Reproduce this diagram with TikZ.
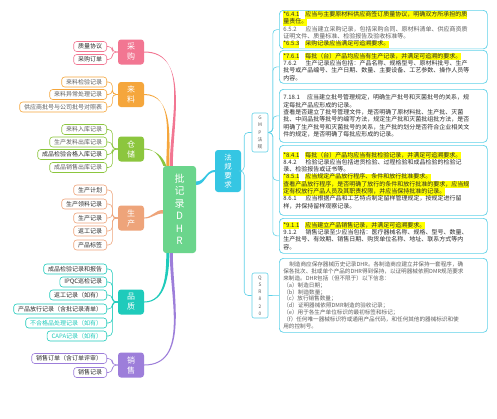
\documentclass[tikz,border=0pt]{standalone}
\usepackage{fontspec}
\setmainfont{Noto Sans CJK SC}
\usetikzlibrary{positioning}
\definecolor{cgc}{HTML}{F27692}
\definecolor{llc}{HTML}{F5A63C}
\definecolor{ccc}{HTML}{8CC63E}
\definecolor{scc}{HTML}{EEA47A}
\definecolor{pzc}{HTML}{1FCBBB}
\definecolor{xsc}{HTML}{9D7EDA}
\definecolor{dhrc}{HTML}{6BD58C}
\definecolor{fgc}{HTML}{35C6E3}
\definecolor{linec}{HTML}{5FD1E8}
\definecolor{txtc}{HTML}{2B2B2B}
\definecolor{grayc}{HTML}{5E5E5E}
\definecolor{hlc}{HTML}{FFFF00}
\newcommand{\hl}[1]{{\setlength{\fboxsep}{0pt}\colorbox{hlc}{\strut #1}}}

\begin{document}
\begin{tikzpicture}[x=1pt, y=1pt,
  cat/.style={fill=#1, rounded corners=3pt, minimum width=26pt, minimum height=25pt, inner sep=0pt, text=white, align=center, font=\fontsize{8}{10}\selectfont},
  leaf/.style={draw=#1, fill=white, rounded corners=3pt, line width=0.6pt, anchor=east, inner xsep=4.5pt, inner ysep=0pt, minimum height=10pt, text=txtc, font=\fontsize{6}{7}\selectfont},
  vbox/.style={draw=linec, fill=white, rounded corners=2pt, line width=0.6pt, minimum width=16pt, inner sep=0pt, text=grayc, align=center, font=\fontsize{4.8}{7.2}\selectfont},
  rbox/.style={draw=linec, fill=white, rounded corners=4pt, line width=0.7pt, anchor=north west, text width=200pt, inner xsep=4pt, inner ysep=1pt, align=left, text=txtc, font=\fontsize{6}{7.3}\selectfont},
  twig/.style={draw=#1, line width=0.6pt, rounded corners=4pt}]
  \path[fill=white] (0,0) rectangle (497,-418);
  \useasboundingbox (0,0) rectangle (497,-418);

  % centre
  \node[fill=dhrc, rounded corners=3pt, minimum width=33pt, minimum height=87pt, inner sep=0pt, text=white, align=center, font=\fontsize{10}{12.5}\selectfont] (dhr) at (179.5,-209.5) {批\\记\\录\\D\\H\\R};
  \node[fill=fgc, rounded corners=3pt, minimum width=26pt, minimum height=42pt, inner sep=0pt, text=white, align=center, font=\fontsize{7.5}{8.8}\selectfont] (fg) at (228,-171) {法\\规\\要\\求};
  \node[vbox, minimum height=39pt] (gmp) at (260,-132.5) {G\\M\\P\\法\\规};
  \node[vbox, minimum height=45pt] (qsr) at (260,-295.5) {Q\\S\\R\\8\\2\\0};

  % categories
  \node[cat=cgc] (cg) at (131,-52) {采\\购};
  \node[cat=llc] (ll) at (131,-94.5) {来\\料};
  \node[cat=ccc] (cc) at (131,-149) {仓\\储};
  \node[cat=scc] (sc) at (131,-218) {生\\产};
  \node[cat=pzc] (pz) at (131,-302) {品\\质};
  \node[cat=xsc] (xs) at (131,-365) {销\\售};

  % leaves
  \node[leaf=cgc] (cg1) at (107,-46.5) {质量协议};
  \node[leaf=cgc] (cg2) at (107,-59.5) {采购订单};
  \node[leaf=llc, text=grayc] (ll1) at (107,-82) {来料检验记录};
  \node[leaf=llc, text=grayc] (ll2) at (107,-94.5) {来料异常处理记录};
  \node[leaf=llc, text=grayc] (ll3) at (107,-107) {供应商批号与公司批号对照表};
  \node[leaf=ccc, text=grayc] (cc1) at (107,-129.5) {来料入库记录};
  \node[leaf=ccc, text=grayc] (cc2) at (107,-142) {生产发料出库记录};
  \node[leaf=ccc] (cc3) at (107,-154.5) {成品检验合格入库记录};
  \node[leaf=ccc, text=grayc] (cc4) at (107,-167.5) {成品销售出库记录};
  \node[leaf=scc] (sc1) at (107,-190) {生产计划};
  \node[leaf=scc] (sc2) at (107,-204) {生产领料记录};
  \node[leaf=scc] (sc3) at (107,-218) {生产记录};
  \node[leaf=scc] (sc4) at (107,-231) {返工记录};
  \node[leaf=scc] (sc5) at (107,-245) {产品标签};
  \node[leaf=pzc] (pz1) at (107,-269) {成品检验记录和报告};
  \node[leaf=pzc] (pz2) at (107,-282) {IPQC巡检记录};
  \node[leaf=pzc] (pz3) at (107,-295) {返工记录（如有）};
  \node[leaf=pzc] (pz4) at (107,-309) {产品放行记录（含批记录清单）};
  \node[leaf=pzc, text=pzc] (pz5) at (107,-323) {不合格品处理记录（如有）};
  \node[leaf=pzc, text=pzc] (pz6) at (107,-336) {CAPA记录（如有）};
  \node[leaf=xsc] (xs1) at (107,-358.5) {销售订单（含订单评审）};
  \node[leaf=xsc] (xs2) at (107,-372.5) {销售记录};

  % regulation texts
  \node[rbox, minimum height=37pt] (r1) at (279,-10) {\hl{*6.4.1}\kern6pt\hl{应当与主要原材料供应商签订质量协议，明确双方所承担的质}\\
    \hl{量责任。}\\
    \textcolor{grayc}{6.5.2\kern9pt 应当建立采购记录，包括采购合同、原材料清单、供应商资质}\\
    \textcolor{grayc}{证明文件、质量标准、检验报告及验收标准等。}\\
    \hl{*6.5.3}\kern6pt\hl{采购记录应当满足可追溯要求。}};
  \node[rbox, minimum height=33pt] (r2) at (279,-50) {\hl{*7.6.1}\kern6pt\hl{每批（台）产品均应当有生产记录，并满足可追溯的要求。}\\
    7.6.2\kern9pt 生产记录应当包括：产品名称、规格型号、原材料批号、生产\\
    批号或产品编号、生产日期、数量、主要设备、工艺参数、操作人员等\\
    内容。};
  \node[rbox, minimum height=53pt] (r3) at (279,-89) {7.18.1\kern7pt 应当建立批号管理规定，明确生产批号和灭菌批号的关系，规\\
    定每批产品应形成的记录。\\
    查看是否建立了批号管理文件，是否明确了原材料批、生产批、灭菌\\
    批、中间品批等批号的编写方法，规定生产批和灭菌批组批方法，是否\\
    明确了生产批号和灭菌批号的关系，生产批的划分是否符合企业相关文\\
    件的规定，是否明确了每批应形成的记录。};
  \node[rbox, minimum height=70pt] (r4) at (279,-145) {\hl{*8.4.1}\kern6pt\hl{每批（台）产品均应当有批检验记录，并满足可追溯要求。}\\
    8.4.2\kern9pt 检验记录应当包括进货检验、过程检验和成品检验的检验记\\
    录、检验报告或证书等。\\
    \hl{*8.5.1}\kern6pt\hl{应当规定产品放行程序、条件和放行批准要求。}\\
    \hl{查看产品放行程序，是否明确了放行的条件和放行批准的要求，应当规}\\
    \hl{定有权放行产品人员及其职责权限，并应当保持批准的记录。}\\
    8.6.1\kern9pt 应当根据产品和工艺特点制定留样管理规定，按规定进行留\\
    样，并保持留样观察记录。};
  \node[rbox, minimum height=35pt] (r5) at (279,-218) {\hl{*9.1.1}\kern6pt\hl{应当建立产品销售记录，并满足可追溯要求。}\\
    9.1.2\kern9pt 销售记录至少应当包括：医疗器械名称、规格、型号、数量、\\
    生产批号、有效期、销售日期、购货单位名称、地址、联系方式等内\\
    容。};
  \node[rbox, minimum height=74pt, text=grayc, font=\fontsize{5.6}{6.8}\selectfont] (r6) at (279,-258) {\kern6pt 制造商应保存器械历史记录DHR。各制造商应建立并保持一套程序，确\\
    保各批次、批或单个产品的DHR得到保持，以证明器械依照DMR规范要求\\
    来制造。DHR包括（但不限于）以下信息：\\
    （a）制造日期；\\
    （b）制造数量；\\
    （c）放行销售数量；\\
    （d）证明器械依照DMR制造的验收记录；\\
    （e）用于各生产单位标识的最初标签和标记；\\
    （f）任何唯一器械标识符或通用产品代码，和任何其他的器械标识和使\\
    用的控制号。};

  % main branches
  \fill[cgc] ([yshift=0.5]cg.east) to[out=0,in=90] ([xshift=7]dhr.north west) -- ([xshift=10]dhr.north west) to[out=90,in=0] ([yshift=-0.5]cg.east);
  \fill[llc] ([yshift=0.5]ll.east) to[out=0,in=90] ([xshift=3.5]dhr.north west) -- ([xshift=6.5]dhr.north west) to[out=90,in=0] ([yshift=-0.5]ll.east);
  \fill[ccc] ([yshift=0.5]cc.east) to[out=0,in=110] ([xshift=0.5]dhr.north west) -- ([xshift=3.5]dhr.north west) to[out=110,in=0] ([yshift=-0.5]cc.east);
  \fill[scc] ([yshift=0.5]sc.east) to[out=0,in=180] ([yshift=-0.5]dhr.west) -- ([yshift=-4]dhr.west) to[out=180,in=0] ([yshift=-0.5]sc.east);
  \fill[pzc] ([yshift=0.5]pz.east) to[out=0,in=-90] ([xshift=3.5]dhr.south west) -- ([xshift=6.5]dhr.south west) to[out=-90,in=0] ([yshift=-0.5]pz.east);
  \fill[xsc] ([yshift=0.5]xs.east) to[out=0,in=-90] ([xshift=7]dhr.south west) -- ([xshift=10]dhr.south west) to[out=-90,in=0] ([yshift=-0.5]xs.east);
  \fill[fgc] ([yshift=28]dhr.east) to[out=0,in=180] ([yshift=1]fg.west) -- ([yshift=-1]fg.west) to[out=180,in=0] ([yshift=24.5]dhr.east);

  % twigs
  \foreach \p/\c/\col in {cg/cg1/cgc, cg/cg2/cgc, ll/ll1/llc, ll/ll2/llc, ll/ll3/llc,
    cc/cc1/ccc, cc/cc2/ccc, cc/cc3/ccc, cc/cc4/ccc,
    sc/sc1/scc, sc/sc2/scc, sc/sc3/scc, sc/sc4/scc, sc/sc5/scc,
    pz/pz1/pzc, pz/pz2/pzc, pz/pz3/pzc, pz/pz4/pzc, pz/pz5/pzc, pz/pz6/pzc,
    xs/xs1/xsc, xs/xs2/xsc}
    {\draw[twig=\col] (\p.west) -- ++(-5.5,0) |- (\c.east);}
  \foreach \c in {gmp, qsr} {\draw[twig=linec] (fg.east) -- ++(3,0) |- (\c.west);}
  \foreach \c in {r1, r2, r3, r4, r5} {\draw[twig=linec] (gmp.east) -- ++(4.5,0) |- (\c.west);}
  \draw[twig=linec] (qsr.east) -- (r6.west);
\end{tikzpicture}
\end{document}
